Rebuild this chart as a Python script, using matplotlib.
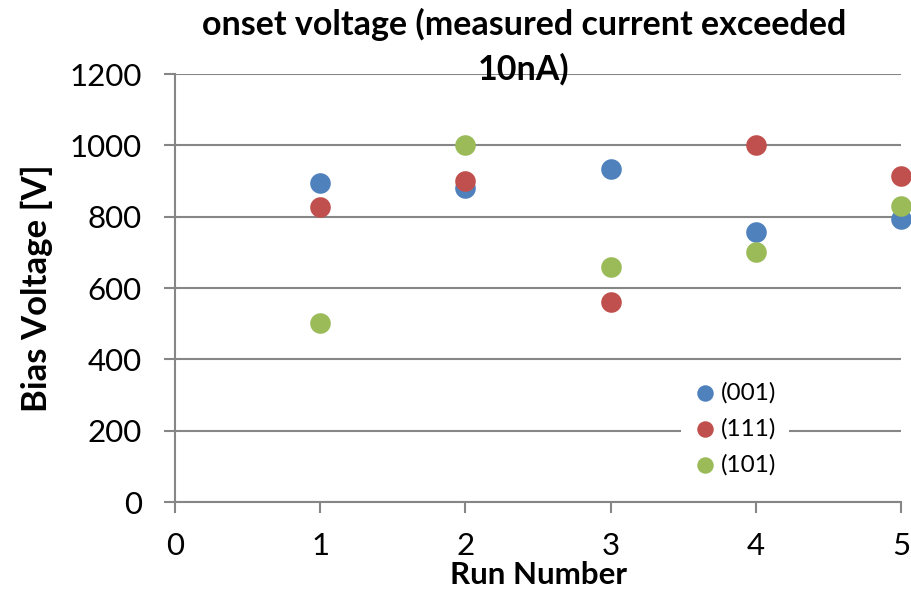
import matplotlib
matplotlib.use("Agg")
import matplotlib.pyplot as plt

runs = [1, 2, 3, 4, 5]
v001 = [894, 880, 934, 757, 793]
v111 = [826, 900, 560, 1000, 914]
v101 = [502, 1000, 659, 700, 830]
labels = ["(001)", "(111)", "(101)"]
colors = ["#4F81BD", "#C0504D", "#9BBB59"]

plt.rcParams['font.family'] = ['Lato', 'DejaVu Sans']

W, H = 912, 590
fig = plt.figure(figsize=(W/100, H/100), dpi=100)
ax = fig.add_axes([175/W, 1-502/H, (901-175)/W, (502-74)/H])

for vals, lab, c in zip([v001, v111, v101], labels, colors):
    ax.scatter(runs, vals, s=220, color=c, label=lab, zorder=3, linewidths=0, clip_on=False)

ax.set_xlim(0, 5)
ax.set_ylim(0, 1200)
ax.set_xticks(range(0, 6))
ax.set_yticks(range(0, 1201, 200))
ax.grid(axis='y', color='#868686', linewidth=1.5)
ax.set_axisbelow(True)
for s in ['top', 'right']:
    ax.spines[s].set_visible(False)
for s in ['left', 'bottom']:
    ax.spines[s].set_color('#868686')
    ax.spines[s].set_linewidth(1.5)
ax.tick_params(axis='both', colors='#868686', labelcolor='black', labelsize=22.5,
               length=8, width=1.5, direction='out')
ax.tick_params(axis='y', pad=16)
ax.tick_params(axis='x', pad=13.5)

ax.set_xlabel("Run Number", fontsize=22.5, fontweight='bold', va='center')
ax.xaxis.set_label_coords(0.5, (502-575.5)/428)
ax.set_ylabel("Bias Voltage [V]", fontsize=25, fontweight='bold', va='center')
ax.yaxis.set_label_coords((37-175)/726, 0.5)

fig.text(524/W, 1-35/H, "onset voltage (measured current exceeded", ha='center', va='baseline',
         fontsize=24.5, fontweight='bold')
fig.text(524/W, 1-80/H, "10nA)", ha='center', va='baseline',
         fontsize=24.5, fontweight='bold')

leg = ax.legend(loc='center', bbox_to_anchor=((735-175)/726, (502-429)/428), frameon=True,
                fontsize=17.5, handlelength=1.0, handletextpad=0.15, labelspacing=0.6,
                borderpad=0.5, borderaxespad=0, markerscale=0.8, scatterpoints=1)
leg.get_frame().set_edgecolor('none')
leg.get_frame().set_facecolor('white')
leg.get_frame().set_alpha(1)
leg.get_frame().set_boxstyle('square', pad=0)

fig.savefig("out.png", dpi=100)
